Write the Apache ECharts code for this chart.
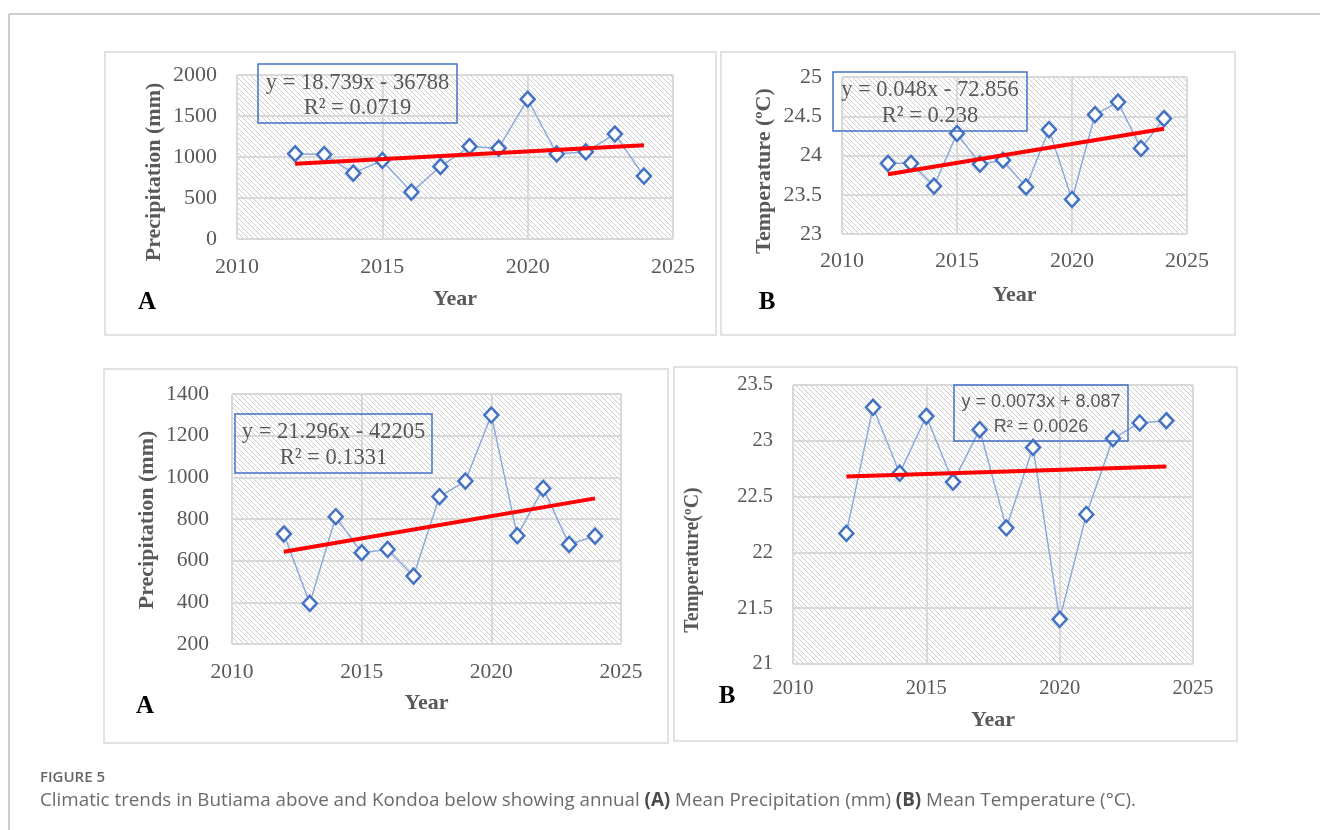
<!DOCTYPE html>
<html>
<head>
<meta charset="utf-8">
<script src="https://cdn.jsdelivr.net/npm/echarts@6/dist/echarts.min.js"></script>
<style>
html,body{margin:0;padding:0;background:#fff;}
#c{width:1320px;height:830px;}
</style>
</head>
<body>
<div id="c"></div>
<script>
// ---- data ----
const years = [2012, 2013, 2014, 2015, 2016, 2017, 2018, 2019, 2020, 2021, 2022, 2023, 2024];
const butiamaPrecip = [1040, 1030, 803, 957, 572, 884, 1128, 1107, 1704, 1038, 1063, 1280, 767];
const butiamaTemp = [23.90, 23.90, 23.61, 24.28, 23.89, 23.94, 23.60, 24.33, 23.44, 24.52, 24.68, 24.09, 24.47];
const kondoaPrecip = [728, 395, 811, 638, 654, 526, 907, 982, 1299, 720, 947, 678, 718];
const kondoaTemp = [22.17, 23.30, 22.71, 23.22, 22.63, 23.10, 22.22, 22.94, 21.40, 22.34, 23.02, 23.16, 23.18];
const trendYears = [2012, 2024];
const butiamaPrecipTrend = [917, 1144];
const butiamaTempTrend = [23.76, 24.34];
const kondoaPrecipTrend = [643, 899];
const kondoaTempTrend = [22.68, 22.77];
const equations = [
  ['y = 18.739x - 36788', 'R² = 0.0719'],
  ['y = 0.048x - 72.856', 'R² = 0.238'],
  ['y = 21.296x - 42205', 'R² = 0.1331'],
  ['y = 0.0073x + 8.087', 'R² = 0.0026']
];
const yTitles = ['Precipitation (mm)', 'Temperature (ºC)', 'Precipitation (mm)', 'Temperature(ºC)'];
const panelLetters = ['A', 'B', 'A', 'B'];
const xTitle = 'Year';
const captionHead = 'FIGURE 5';

// ---- styling / layout ----
const pat = document.createElement('canvas');
pat.width = 5; pat.height = 5;
const pc = pat.getContext('2d');
pc.fillStyle = '#ffffff'; pc.fillRect(0, 0, 5, 5);
pc.fillStyle = '#cdcdcd';
for (let i = 0; i < 5; i++) pc.fillRect(i, i, 1, 1);
const hatch = { image: pat, repeat: 'repeat' };

const SERIF = '"Liberation Serif", "Times New Roman", serif';
const SANS = '"Open Sans", Lato, sans-serif';
const GRAY = '#595959';
const grids = [
  { left: 237, top: 75, width: 436, height: 164 },
  { left: 842, top: 77, width: 345, height: 157 },
  { left: 232, top: 394, width: 389, height: 250 },
  { left: 793, top: 385, width: 400, height: 279 }
];
const yRanges = [[0, 2000, 500], [23, 25, 0.5], [200, 1400, 200], [21, 23.5, 0.5]];
const tickFont = [22, 22, 21.5, 20.5];
const xLabelMargin = [17, 16, 17, 14];
const yLabelMargin = [20, 20, 23, 20];
const yearGap = [49, 50, 48, 45];
const yearFont = [22, 22, 22, 22];

const seriesData = [butiamaPrecip, butiamaTemp, kondoaPrecip, kondoaTemp];
const trendData = [butiamaPrecipTrend, butiamaTempTrend, kondoaPrecipTrend, kondoaTempTrend];
const plain = v => String(v);

const xAxes = [], yAxes = [], series = [];
for (let i = 0; i < 4; i++) {
  xAxes.push({
    gridIndex: i, type: 'value', min: 2010, max: 2025, interval: 5,
    axisLine: { show: false }, axisTick: { show: false },
    splitLine: { show: true, lineStyle: { color: '#d9d9d9', width: 2 } },
    axisLabel: { color: GRAY, fontFamily: SERIF, fontSize: tickFont[i], margin: xLabelMargin[i], formatter: plain },
    name: xTitle, nameLocation: 'middle', nameGap: yearGap[i],
    nameTextStyle: { color: GRAY, fontFamily: SERIF, fontWeight: 'bold', fontSize: yearFont[i] }
  });
  yAxes.push({
    gridIndex: i, type: 'value', min: yRanges[i][0], max: yRanges[i][1], interval: yRanges[i][2],
    axisLine: { show: false }, axisTick: { show: false },
    splitLine: { show: true, lineStyle: { color: '#d9d9d9', width: 2 } },
    axisLabel: { color: GRAY, fontFamily: SERIF, fontSize: tickFont[i], margin: yLabelMargin[i], formatter: plain }
  });
  series.push({
    type: 'line', xAxisIndex: i, yAxisIndex: i,
    data: years.map((y, k) => [y, seriesData[i][k]]),
    lineStyle: { color: '#8eaadb', width: 1.5 },
    symbol: 'diamond', symbolSize: [14, 15],
    itemStyle: { color: '#ffffff', borderColor: '#4472c4', borderWidth: 2.5 },
    z: 3, animation: false, silent: true
  });
  series.push({
    type: 'line', xAxisIndex: i, yAxisIndex: i,
    data: trendYears.map((y, k) => [y, trendData[i][k]]),
    lineStyle: { color: '#ff0000', width: 4 },
    symbol: 'none', z: 4, animation: false, silent: true
  });
}

const gridOpts = grids.map(g => Object.assign({
  show: true, backgroundColor: hatch, borderWidth: 0
}, g));

// panel frames
const panels = [
  [105, 52, 611, 283], [721, 52, 514, 283],
  [104, 369, 564, 374], [674, 367, 563, 374]
];
const graphics = [];
graphics.push({ type: 'line', shape: { x1: 9, y1: 14, x2: 1320, y2: 14 }, style: { stroke: '#bdbdbd', lineWidth: 1.5 }, z: 0 });
graphics.push({ type: 'line', shape: { x1: 9, y1: 14, x2: 9, y2: 830 }, style: { stroke: '#bdbdbd', lineWidth: 1.5 }, z: 0 });
panels.forEach(p => graphics.push({
  type: 'rect', shape: { x: p[0], y: p[1], width: p[2], height: p[3] },
  style: { fill: null, stroke: '#d9d9d9', lineWidth: 1.5 }, z: 0
}));

// y titles
const yTitlePos = [[154, 172, 22], [764, 171, 22], [147, 520, 22], [693, 560, 20]];
yTitlePos.forEach((p, i) => graphics.push({
  type: 'text', x: p[0], y: p[1], rotation: Math.PI / 2,
  style: { text: yTitles[i], fill: GRAY, font: 'bold ' + p[2] + 'px ' + SERIF, align: 'center', verticalAlign: 'middle' }
}));

// panel letters
const letterPos = [[147, 303], [767, 303], [145, 707], [727, 697]];
letterPos.forEach((p, i) => graphics.push({
  type: 'text', x: p[0], y: p[1],
  style: { text: panelLetters[i], fill: '#000', font: 'bold 25px ' + SERIF, align: 'center', verticalAlign: 'middle' }
}));

// equation boxes
const eqBoxes = [
  { x: 258, y: 64, w: 199, h: 59, l1: 83, l2: 108, font: '22.5px ' + SERIF },
  { x: 833, y: 72, w: 194, h: 59, l1: 90, l2: 116, font: '22.5px ' + SERIF },
  { x: 235, y: 414, w: 197, h: 59, l1: 432, l2: 458, font: '22.5px ' + SERIF },
  { x: 954, y: 385, w: 174, h: 56, l1: 402, l2: 427, font: '18px "Liberation Sans", Arial, sans-serif' }
];
eqBoxes.forEach((b, i) => {
  graphics.push({
    type: 'rect', shape: { x: b.x, y: b.y, width: b.w, height: b.h },
    style: { fill: null, stroke: '#4472c4', lineWidth: 1.5 }, z: 10
  });
  graphics.push({ type: 'text', x: b.x + b.w / 2, y: b.l1, z: 10,
    style: { text: equations[i][0], fill: GRAY, font: b.font, align: 'center', verticalAlign: 'middle' } });
  graphics.push({ type: 'text', x: b.x + b.w / 2, y: b.l2, z: 10,
    style: { text: equations[i][1], fill: GRAY, font: b.font, align: 'center', verticalAlign: 'middle' } });
});

// caption
graphics.push({ type: 'text', x: 40, y: 778,
  style: { text: captionHead, fill: '#666', font: '600 15px ' + SANS, verticalAlign: 'middle' } });
graphics.push({ type: 'text', x: 40, y: 801,
  style: {
    text: 'Climatic trends in Butiama above and Kondoa below showing annual {b|(A)} Mean Precipitation (mm) {b|(B)} Mean Temperature (°C).',
    fill: '#6b6b6b', font: '18.8px ' + SANS, verticalAlign: 'middle',
    rich: { b: { fontWeight: 'bold', fill: '#4a4a4a', fontSize: 18.8, fontFamily: SANS } }
  } });

const chart = echarts.init(document.getElementById('c'), null, { renderer: 'canvas' });
chart.setOption({
  animation: false,
  backgroundColor: '#ffffff',
  grid: gridOpts,
  xAxis: xAxes,
  yAxis: yAxes,
  series: series,
  graphic: graphics
});
</script>
</body>
</html>
